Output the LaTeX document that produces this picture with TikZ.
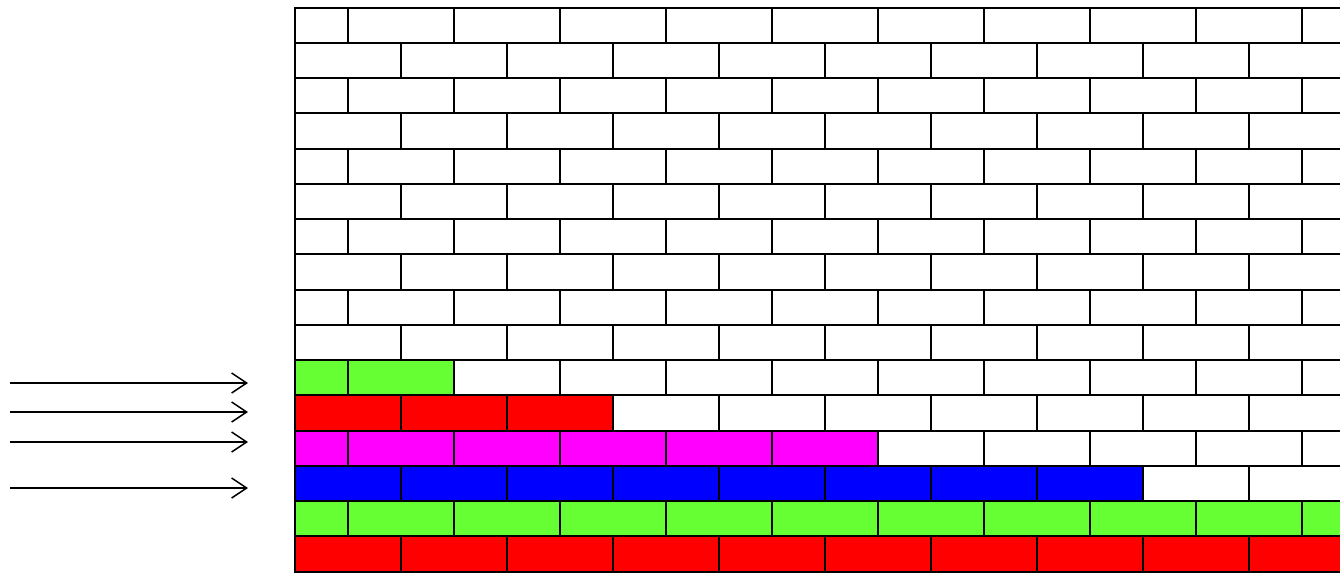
\documentclass[tikz,border=0pt]{standalone}
\usetikzlibrary{arrows.meta}
\definecolor{bgreen}{HTML}{66FF33}
\definecolor{bred}{HTML}{FF0000}
\definecolor{bmag}{HTML}{FF00FF}
\definecolor{bblue}{HTML}{0000FF}
\tikzset{
  brick/.style={draw=black,line width=2pt},
  push/.style={line width=1.5pt,-{Straight Barb[length=15pt,width=20pt,line width=1.5pt]}}
}
\begin{document}
\begin{tikzpicture}[x=1pt,y=-1pt]
\useasboundingbox (0,0) rectangle (1340,573);
\foreach \r/\col/\stop in {0/white/0,1/white/0,2/white/0,3/white/0,4/white/0,5/white/0,6/white/0,7/white/0,8/white/0,9/white/0,10/bgreen/454,11/bred/613,12/bmag/878,13/bblue/1143,14/bgreen/3000,15/bred/3000}{
  \pgfmathsetmacro\base{mod(\r,2)==1 ? 295 : 242}
  \pgfmathsetmacro\ya{7.5+35.25*\r}
  \pgfmathsetmacro\yb{7.5+35.25*(\r+1)}
  \foreach \k in {0,...,10}{
    \pgfmathsetmacro\xa{max(295,\base+106*\k)}
    \pgfmathsetmacro\xb{min(1350,\base+106*(\k+1))}
    \pgfmathsetmacro\filled{(\base+106*(\k+1)) <= \stop ? 1 : 0}
    \ifdim\filled pt>0.5pt
      \path[brick,fill=\col] (\xa,\ya) rectangle (\xb,\yb);
    \else
      \path[brick,fill=white] (\xa,\ya) rectangle (\xb,\yb);
    \fi
  }
}
\coordinate (s1) at (10,383); \coordinate (e1) at (248,383);
\coordinate (s2) at (10,412); \coordinate (e2) at (248,412);
\coordinate (s3) at (10,442); \coordinate (e3) at (248,442);
\coordinate (s4) at (10,488); \coordinate (e4) at (248,488);
\foreach \i in {1,2,3,4}{\draw[push] (s\i) -- (e\i);}
\end{tikzpicture}
\end{document}
